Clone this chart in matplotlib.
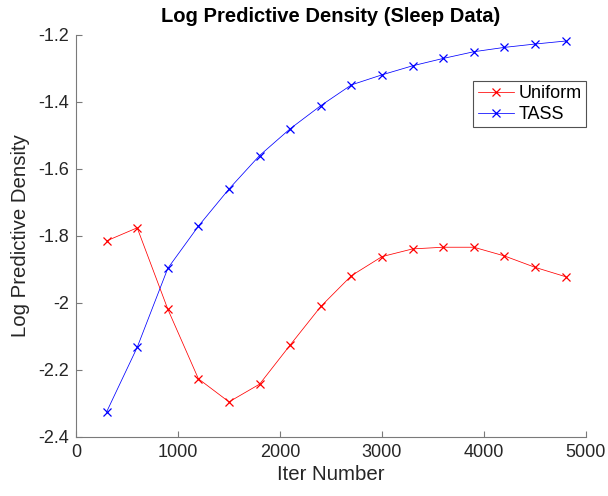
import matplotlib
matplotlib.use("Agg")
import matplotlib.pyplot as plt

iters = [300, 600, 900, 1200, 1500, 1800, 2100, 2400, 2700, 3000, 3300, 3600, 3900, 4200, 4500, 4800]
uniform = [-1.815, -1.776, -2.019, -2.227, -2.296, -2.243, -2.126, -2.011, -1.919, -1.862,
           -1.839, -1.834, -1.834, -1.860, -1.894, -1.922]
tass = [-2.326, -2.133, -1.897, -1.771, -1.66, -1.56, -1.48, -1.411, -1.349, -1.319,
        -1.292, -1.270, -1.250, -1.237, -1.227, -1.218]
xticks = [0, 1000, 2000, 3000, 4000, 5000]
yticks = [-2.4, -2.2, -2.0, -1.8, -1.6, -1.4, -1.2]
yticklabels = ["-2.4", "-2.2", "-2", "-1.8", "-1.6", "-1.4", "-1.2"]

plt.rcParams['font.family'] = ['Liberation Sans', 'DejaVu Sans']
fig = plt.figure(figsize=(6.08, 4.96), dpi=100)
ax = fig.add_axes([76/608, 1 - 436.7/496, 510/608, 401.7/496])

ax.plot(iters, uniform, color='#ff0000', marker='x', lw=0.55, ms=5.2, mew=0.9, label='Uniform')
ax.plot(iters, tass, color='#0000ff', marker='x', lw=0.55, ms=5.2, mew=0.9, label='TASS')

ax.set_xlim(0, 5000)
ax.set_ylim(-2.4, -1.2)
ax.set_xticks(xticks)
ax.set_yticks(yticks)
ax.set_yticklabels(yticklabels)
for s in ['top', 'right']:
    ax.spines[s].set_visible(False)
for s in ['left', 'bottom']:
    ax.spines[s].set_color('#7a7a7a')
    ax.spines[s].set_linewidth(0.8)
ax.tick_params(direction='in', length=4, width=0.8, color='#7a7a7a',
               labelsize=13, labelcolor='#262626', pad=5)

ax.set_xlabel('Iter Number', fontsize=14.7, color='#262626', labelpad=3)
ax.set_ylabel('Log Predictive Density', fontsize=14.7, color='#262626', labelpad=6)
ax.set_title('Log Predictive Density (Sleep Data)', fontsize=14.5, fontweight='bold', pad=9)

leg = ax.legend(loc='upper right', bbox_to_anchor=(1.0, 0.886), fontsize=13, frameon=True,
                fancybox=False, edgecolor='#262626', handlelength=2.0, borderpad=0.25,
                labelspacing=0.2, handletextpad=0.25, borderaxespad=0)
leg.get_frame().set_linewidth(0.8)

fig.savefig('out.png', dpi=100)
